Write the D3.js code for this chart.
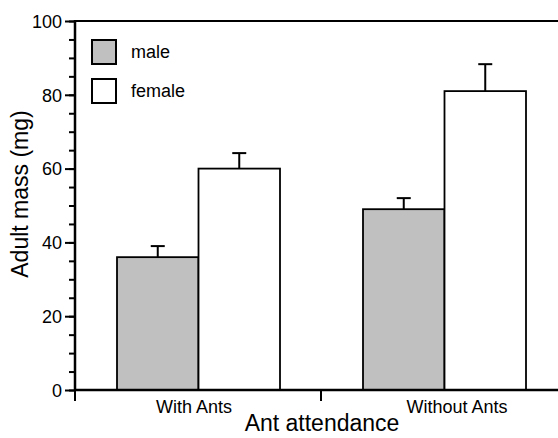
<!DOCTYPE html>
<html>
<head>
<meta charset="utf-8">
<script src="https://d3js.org/d3.v7.min.js"></script>
<style>
    body { margin: 0; background: #fff; }
    text { font-family: "Liberation Sans", Arial, sans-serif; fill: #000; }
</style>
</head>
<body>
<script>
    const groups = ["With Ants", "Without Ants"];
    const series = ["male", "female"];
    const colors = ["#c0c0c0", "#ffffff"];
    const maleMean = [36, 49];
    const maleErr = [3, 3];
    const femaleMean = [60, 81];
    const femaleErr = [4.2, 7.3];
    const yTicks = [0, 20, 40, 60, 80, 100];

    const width = 558, height = 438;
    const svg = d3.select("body").append("svg")
        .attr("width", width).attr("height", height);

    const x = d3.scaleBand().domain(groups).range([75, 567]);
    const xs = d3.scaleBand().domain(series).range([42, 205]);
    const y = d3.scaleLinear().domain([0, 100]).range([390, 21]);

    const rows = [];
    groups.forEach(function(g, i) {
        rows.push({ g: g, s: "male", v: maleMean[i], e: maleErr[i] });
        rows.push({ g: g, s: "female", v: femaleMean[i], e: femaleErr[i] });
    });

    // error bars first, so the bar outline sits on top
    const eb = svg.append("g").attr("stroke", "#000").attr("stroke-width", 2);
    rows.forEach(function(d) {
        const cx = x(d.g) + xs(d.s) + xs.bandwidth() / 2;
        eb.append("line").attr("x1", cx).attr("x2", cx)
            .attr("y1", y(d.v)).attr("y2", y(d.v + d.e));
        eb.append("line").attr("x1", cx - 7).attr("x2", cx + 7)
            .attr("y1", y(d.v + d.e)).attr("y2", y(d.v + d.e));
    });

    svg.append("g").selectAll("rect")
        .data(rows).join("rect")
        .attr("x", function(d) { return x(d.g) + xs(d.s); })
        .attr("y", function(d) { return y(d.v); })
        .attr("width", xs.bandwidth())
        .attr("height", function(d) { return y(0) - y(d.v); })
        .attr("fill", function(d) { return colors[series.indexOf(d.s)]; })
        .attr("stroke", "#000")
        .attr("stroke-width", 1.8);

    // y axis: minor every 5, labelled every 20
    const yMinor = svg.append("g").attr("transform", "translate(75,0)")
        .call(d3.axisLeft(y).tickValues(d3.range(0, 101, 5)).tickSize(6).tickFormat(""));
    yMinor.selectAll(".tick line").attr("stroke-width", 2);
    yMinor.select(".domain").remove();
    const yMajor = svg.append("g").attr("transform", "translate(75,0)")
        .call(d3.axisLeft(y).tickValues(yTicks).tickSize(10).tickPadding(3));
    yMajor.select(".domain").remove();
    yMajor.selectAll(".tick line").attr("stroke-width", 2);
    yMajor.selectAll("text").style("font-size", "18px")
        .style("font-family", "Liberation Sans, Arial, sans-serif").attr("dy", "0.35em");
    svg.append("line").attr("x1", 75).attr("x2", 75).attr("y1", 20).attr("y2", 391)
        .attr("stroke", "#000").attr("stroke-width", 2.5);
    svg.append("line").attr("x1", 74).attr("x2", width).attr("y1", 21).attr("y2", 21)
        .attr("stroke", "#000").attr("stroke-width", 2);

    // x axis
    svg.append("line").attr("x1", 74).attr("x2", width).attr("y1", 390).attr("y2", 390)
        .attr("stroke", "#000").attr("stroke-width", 2.5);
    svg.append("g").selectAll("line").data(groups).join("line")
        .attr("x1", function(d) { return x(d); }).attr("x2", function(d) { return x(d); })
        .attr("y1", 390).attr("y2", 401)
        .attr("stroke", "#000").attr("stroke-width", 2);
    const labelShift = [-4, 13];
    svg.append("g").selectAll("text").data(groups).join("text")
        .attr("x", function(d, i) { return x(d) + x.bandwidth() / 2 + labelShift[i]; })
        .attr("y", 413)
        .attr("text-anchor", "middle")
        .style("font-size", "18px")
        .text(function(d) { return d; });

    svg.append("text").attr("x", 322).attr("y", 431)
        .attr("text-anchor", "middle").style("font-size", "23px")
        .text("Ant attendance");
    svg.append("text")
        .attr("transform", "translate(28,194) rotate(-90)")
        .attr("text-anchor", "middle").style("font-size", "23px")
        .text("Adult mass (mg)");

    // legend
    const lg = svg.append("g").selectAll("g").data(series).join("g")
        .attr("transform", function(d, i) { return "translate(92," + (40 + i * 39) + ")"; });
    lg.append("rect").attr("width", 24).attr("height", 24)
        .attr("fill", function(d, i) { return colors[i]; })
        .attr("stroke", "#000").attr("stroke-width", 2);
    lg.append("text").attr("x", 39).attr("y", 18)
        .style("font-size", "18px")
        .text(function(d) { return d; });
</script>
</body>
</html>
